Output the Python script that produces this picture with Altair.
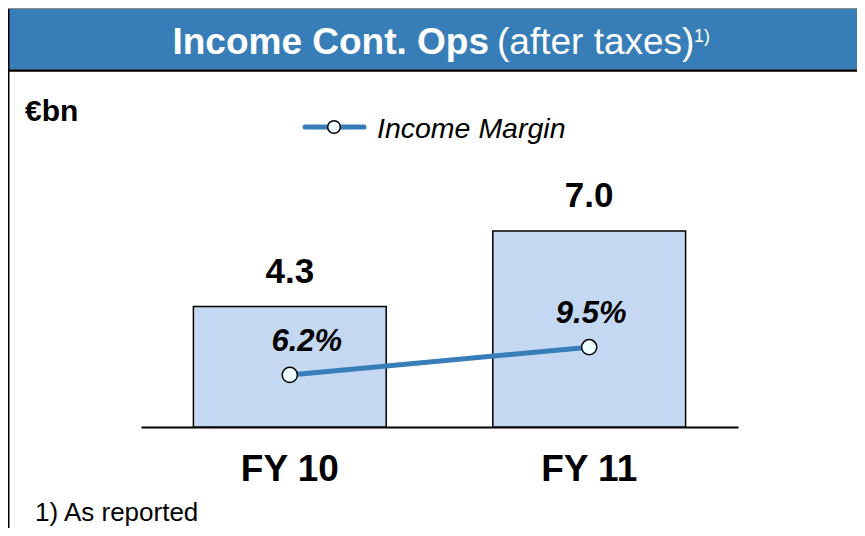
import altair as alt
import pandas as pd

# ---- data ----
categories = ["FY 10", "FY 11"]
income = [4.3, 7.0]          # €bn
margin = [6.2, 9.5]          # income margin, %

df = pd.DataFrame({
    "category": categories,
    "income": income,
    "margin": margin,
    "margin_label": [f"{m:.1f}%" for m in margin],
})

FONT = "Liberation Sans"
BLUE = "#377EB8"
BAR = "#C5D8F2"

# plot area geometry (svg coords)
PL, PT, W, H = 133, 195, 597, 224
TOTAL_W, TOTAL_H = 849, 520


def X(v):
    return v - PL


def Y(v):
    return v - PT


one = pd.DataFrame({"k": [0]})

xenc = alt.X(
    "category:N",
    sort=categories,
    scale=alt.Scale(paddingInner=0.356, paddingOuter=0.175),
    axis=alt.Axis(
        title=None, labelFont=FONT, labelFontSize=37, labelFontWeight="bold",
        labelColor="black", labelAngle=0, ticks=False, tickSize=0,
        domainColor="black", domainWidth=2, labelPadding=53,
        labelBaseline="alphabetic", grid=False,
    ),
)
yinc = alt.Scale(domain=[0, 8], nice=False, zero=True)
ymar = alt.Scale(domain=[0, 26.67], nice=False, zero=True)

base = alt.Chart(df)

bars = base.mark_bar(fill=BAR, stroke="black", strokeWidth=1.5).encode(
    x=xenc, y=alt.Y("income:Q", scale=yinc, axis=None)
)
bar_labels = base.mark_text(
    font=FONT, fontSize=35, fontWeight="bold", dy=-24, baseline="alphabetic", color="black"
).encode(
    x=xenc, y=alt.Y("income:Q", scale=yinc, axis=None),
    text=alt.Text("income:Q", format=".1f"),
)
line = base.mark_line(color=BLUE, strokeWidth=5).encode(
    x=xenc, y=alt.Y("margin:Q", scale=ymar, axis=None)
)
points = base.mark_circle(size=230, fill="#F0FFFF", stroke="black", strokeWidth=1.5, opacity=1).encode(
    x=xenc, y=alt.Y("margin:Q", scale=ymar, axis=None)
)
ml_style = dict(font=FONT, fontSize=31, fontWeight="bold", fontStyle="italic",
                baseline="alphabetic", color="black", dy=-24)
margin_lab1 = base.transform_filter(alt.datum.category == categories[0]).mark_text(
    dx=17, **ml_style
).encode(x=xenc, y=alt.Y("margin:Q", scale=ymar, axis=None), text="margin_label:N")
margin_lab2 = base.transform_filter(alt.datum.category == categories[1]).mark_text(
    dx=2, **ml_style
).encode(x=xenc, y=alt.Y("margin:Q", scale=ymar, axis=None), text="margin_label:N")

# ---- decorations: header, frame, legend, notes ----
deco = alt.Chart(one)
header = deco.mark_rect(fill=BLUE).encode(
    x=alt.value(X(0)), x2=alt.value(X(TOTAL_W)), y=alt.value(Y(1)), y2=alt.value(Y(61))
)
top_line = deco.mark_rule(color="#8c8c8c", strokeWidth=1).encode(
    x=alt.value(X(0)), x2=alt.value(X(TOTAL_W)), y=alt.value(Y(0.5))
)
header_line = deco.mark_rule(color="black", strokeWidth=2.5).encode(
    x=alt.value(X(0)), x2=alt.value(X(TOTAL_W)), y=alt.value(Y(62.5))
)
left_line = deco.mark_rule(color="black", strokeWidth=2).encode(
    x=alt.value(X(0.5)), y=alt.value(Y(1)), y2=alt.value(Y(TOTAL_H))
)
t_bold = deco.mark_text(text="Income Cont. Ops", font=FONT, fontSize=37, fontWeight="bold",
                        color="white", align="right", baseline="alphabetic").encode(
    x=alt.value(X(481)), y=alt.value(Y(46)))
t_norm = deco.mark_text(text="(after taxes)", font=FONT, fontSize=37,
                        color="white", align="left", baseline="alphabetic").encode(
    x=alt.value(X(489)), y=alt.value(Y(46)))
t_sup = deco.mark_text(text="1)", font=FONT, fontSize=18,
                       color="white", align="left", baseline="alphabetic").encode(
    x=alt.value(X(686)), y=alt.value(Y(34)))
unit = deco.mark_text(text="€bn", font=FONT, fontSize=30, fontWeight="bold",
                      color="black", align="left", baseline="alphabetic").encode(
    x=alt.value(X(17)), y=alt.value(Y(113)))
leg_line = deco.mark_rule(color=BLUE, strokeWidth=5, strokeCap="round").encode(
    x=alt.value(X(297)), x2=alt.value(X(356)), y=alt.value(Y(119)))
leg_pt = deco.mark_circle(size=160, fill="#F0FFFF", stroke="black", strokeWidth=1.5, opacity=1).encode(
    x=alt.value(X(326)), y=alt.value(Y(119)))
leg_txt = deco.mark_text(text="Income Margin", font=FONT, fontSize=28.5, fontStyle="italic",
                         color="black", align="left", baseline="alphabetic").encode(
    x=alt.value(X(369)), y=alt.value(Y(130)))
foot = deco.mark_text(text="1) As reported", font=FONT, fontSize=26,
                      color="black", align="left", baseline="alphabetic").encode(
    x=alt.value(X(27)), y=alt.value(Y(513)))

chart = alt.layer(
    header, top_line, header_line, left_line, t_bold, t_norm, t_sup, unit,
    leg_line, leg_pt, leg_txt, foot,
    bars, bar_labels, line, points, margin_lab1, margin_lab2,
).resolve_scale(y="independent").properties(
    width=W, height=H,
    autosize=alt.AutoSizeParams(type="none"),
    padding={"left": PL, "top": PT, "right": TOTAL_W - PL - W, "bottom": TOTAL_H - PT - H},
    background="white",
).configure_view(stroke=None)

chart.save("out.html", embed_options={"renderer": "svg", "actions": False})
